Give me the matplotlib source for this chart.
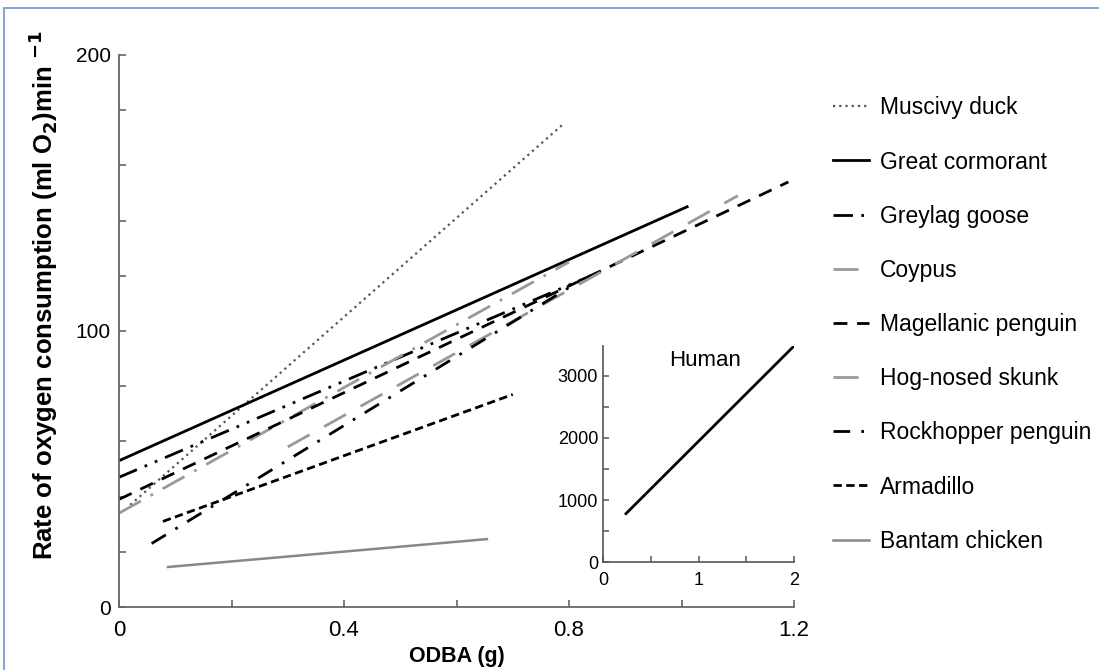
import matplotlib
matplotlib.use("Agg")
import matplotlib.pyplot as plt
from matplotlib.patches import Rectangle
from matplotlib.ticker import MultipleLocator

plt.rcParams["font.family"] = ["Liberation Sans", "DejaVu Sans"]

# ===== Data (start/end of each fitted line) =====
species = ["Muscivy duck", "Great cormorant", "Greylag goose", "Coypus",
           "Magellanic penguin", "Hog-nosed skunk", "Rockhopper penguin",
           "Armadillo", "Bantam chicken"]
odba_start = [0.02, 0.0, 0.0, 0.0, 0.0, 0.30, 0.058, 0.078, 0.087]
odba_end = [0.79, 1.01, 0.85, 0.80, 1.19, 1.10, 0.81, 0.70, 0.654]
vo2_start = [37, 53, 47, 34, 39, 58, 23, 31, 14.5]
vo2_end = [175, 145, 121, 125, 154, 149, 117, 77, 24.6]

human_odba = [0.24, 2.0]
human_vo2 = [780, 3480]

# ===== Styles =====
styles = {
    "Muscivy duck": dict(color="#555555", ls=(0, (1, 1.8)), lw=1.6),
    "Great cormorant": dict(color="black", ls="-", lw=2.0),
    "Greylag goose": dict(color="black", ls=(0, (7, 3, 1, 3, 1, 3)), lw=2.0),
    "Coypus": dict(color="#999999", ls=(0, (9, 4, 1, 4)), lw=2.0),
    "Magellanic penguin": dict(color="black", ls=(0, (5, 3.5)), lw=2.0),
    "Hog-nosed skunk": dict(color="#999999", ls=(0, (9, 6)), lw=2.0),
    "Rockhopper penguin": dict(color="black", ls=(0, (6, 4, 1, 4)), lw=2.0),
    "Armadillo": dict(color="black", ls=(0, (3, 1.6)), lw=2.0),
    "Bantam chicken": dict(color="#888888", ls="-", lw=1.8),
}

fig = plt.figure(figsize=(10.99, 6.70), dpi=100)
# light blue frame, open at right and bottom like the screenshot
fig.patches.append(Rectangle((0.004, -0.05), 1.1, 1.038, transform=fig.transFigure,
                             fill=False, edgecolor="#8aa6d6", lw=1.5))

ax = fig.add_axes([0.1083, 0.094, 0.6142, 0.824])
handles = []
for i, name in enumerate(species):
    h, = ax.plot([odba_start[i], odba_end[i]], [vo2_start[i], vo2_end[i]],
                 label=name, **styles[name])
    handles.append(h)

ax.set_xlim(0, 1.2)
ax.set_ylim(0, 200)
ax.set_xticks([0, 0.4, 0.8, 1.2])
ax.set_xticklabels(["0", "0.4", "0.8", "1.2"])
ax.xaxis.set_minor_locator(MultipleLocator(0.2))
ax.set_yticks([0, 100, 200])
ax.yaxis.set_minor_locator(MultipleLocator(20))
for s in ["top", "right"]:
    ax.spines[s].set_visible(False)
for s in ["left", "bottom"]:
    ax.spines[s].set_color("#666666")
    ax.spines[s].set_linewidth(1.3)
ax.tick_params(which="both", direction="in", length=5, color="#666666", width=1.2)
ax.tick_params(axis="y", labelsize=15, pad=6)
ax.tick_params(axis="x", labelsize=16, pad=9)
ax.set_xlabel("ODBA (g)", fontsize=15.5, fontweight="bold", labelpad=4)
ax.set_ylabel(r"Rate of oxygen consumption (ml O$_\mathbf{2}$)min $^\mathbf{-1}$",
              fontsize=18.5, fontweight="bold")
ax.yaxis.set_label_coords(-0.087, 0.565)

ax.legend(handles=handles, loc="upper left", bbox_to_anchor=(1.058, 0.925),
          frameon=False, fontsize=16.5, labelspacing=1.36, handlelength=1.55,
          handletextpad=0.5, borderpad=0, borderaxespad=0)

# ===== Inset: Human =====
ins = fig.add_axes([0.5487, 0.161, 0.1738, 0.3226])
ins.plot(human_odba, human_vo2, color="black", lw=2.0)
ins.set_xlim(0, 2)
ins.set_ylim(0, 3480)
ins.set_xticks([0, 1, 2])
ins.xaxis.set_minor_locator(MultipleLocator(0.5))
ins.set_yticks([0, 1000, 2000, 3000])
ins.yaxis.set_minor_locator(MultipleLocator(500))
for s in ["top", "right"]:
    ins.spines[s].set_visible(False)
for s in ["left", "bottom"]:
    ins.spines[s].set_color("#555555")
    ins.spines[s].set_linewidth(1.2)
ins.tick_params(which="both", direction="in", length=4, color="#555555",
                labelsize=13, width=1.1)
ins.tick_params(axis="x", pad=7)
ins.text(1.07, 3240, "Human", fontsize=16, ha="center", va="center")

fig.savefig("out.png", dpi=100)
